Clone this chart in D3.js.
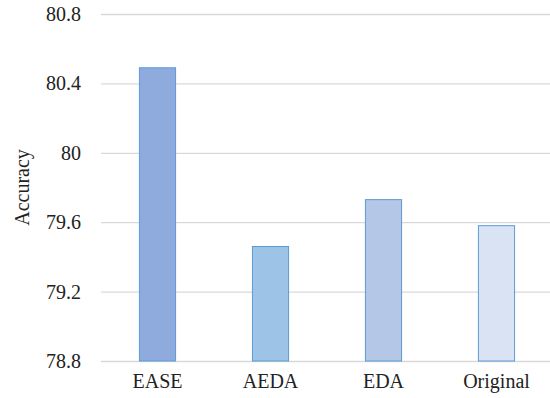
<!DOCTYPE html>
<html><head><meta charset="utf-8">
<script src="https://cdn.jsdelivr.net/npm/d3@7"></script>
<style>body{margin:0;background:#fff}svg{display:block}
text{font-family:"Liberation Serif","Times New Roman",serif !important;}</style>
</head><body>
<script>
const categories = ["EASE", "AEDA", "EDA", "Original"];
const values = [80.49, 79.46, 79.73, 79.58];
const fills = ["#8faadc", "#9dc3e6", "#b4c7e7", "#dae3f3"];
const tickValues = [78.8, 79.2, 79.6, 80, 80.4, 80.8];
const tickLabels = ["78.8", "79.2", "79.6", "80", "80.4", "80.8"];

const W = 550, H = 398;
const m = {left: 101, right: -3, top: 14, bottom: 37};
const svg = d3.select("body").append("svg").attr("width", W).attr("height", H);
const fs = 20;

const x = d3.scaleBand().domain(categories).range([m.left, W - m.right]).paddingInner(0.68).paddingOuter(0.34);
const y = d3.scaleLinear().domain([78.8, 80.8]).range([H - m.bottom, m.top]);

const yAxis = d3.axisLeft(y).tickValues(tickValues).tickFormat((d, i) => tickLabels[i]).tickSize(-(W - m.left)).tickPadding(20);
const gy = svg.append("g").attr("transform", `translate(${m.left},0)`).call(yAxis);
gy.select(".domain").remove();
gy.selectAll(".tick line").attr("stroke", "#d9d9d9").attr("stroke-width", 1.3);
gy.selectAll(".tick text").attr("font-size", fs).attr("fill", "#222");

svg.append("g").selectAll("rect").data(values).join("rect")
  .attr("x", (d, i) => x(categories[i]))
  .attr("width", x.bandwidth())
  .attr("y", d => y(d))
  .attr("height", d => y(78.8) - y(d))
  .attr("fill", (d, i) => fills[i])
  .attr("stroke", "#5b9bd5").attr("stroke-width", 1);

const xAxis = d3.axisBottom(x).tickSize(0).tickPadding(13);
const gx = svg.append("g").attr("transform", `translate(0,${H - m.bottom})`).call(xAxis);
gx.select(".domain").remove();
gx.selectAll(".tick text").attr("font-size", fs).attr("fill", "#222");

svg.append("text").attr("transform", `translate(29,${(m.top + H - m.bottom) / 2}) rotate(-90)`)
  .attr("text-anchor", "middle").attr("font-size", fs).attr("fill", "#222")
  .text("Accuracy");
</script>
</body></html>
